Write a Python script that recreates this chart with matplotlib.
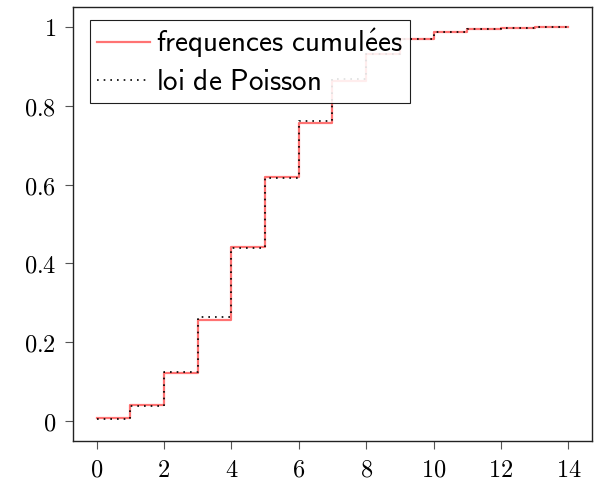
import matplotlib
matplotlib.use("Agg")
import matplotlib.pyplot as plt
from matplotlib.ticker import FuncFormatter

plt.rcParams['mathtext.fontset'] = 'cm'

# cumulative frequencies (sample) and Poisson CDF, k = 0..14
k = [0, 1, 2, 3, 4, 5, 6, 7, 8, 9, 10, 11, 12, 13, 14]
freq_cum = [0.008, 0.042, 0.122, 0.258, 0.441, 0.620, 0.757, 0.862, 0.930,
            0.968, 0.987, 0.995, 0.998, 0.999, 1.0]
poisson_cdf = [0.007, 0.040, 0.125, 0.265, 0.440, 0.616, 0.762, 0.867, 0.932,
               0.968, 0.986, 0.995, 0.998, 0.999, 1.0]
xticks = [0, 2, 4, 6, 8, 10, 12, 14]
yticks = [0, 0.2, 0.4, 0.6, 0.8, 1]

fig = plt.figure(figsize=(5.98, 4.84), dpi=100)
ax = fig.add_axes([0.122, 0.0888, 0.868, 0.8967])

ax.step(k, freq_cum, where='post', color='red', alpha=0.55, lw=1.6,
        label=r'$\mathsf{frequences\ cumul\acute{e}es}$')
ax.step(k, poisson_cdf, where='post', color='black', lw=1.2,
        linestyle=(0, (1, 3)), label=r'$\mathsf{loi\ de\ Poisson}$')

ax.set_xlim(-0.7, 14.7)
ax.set_ylim(-0.05, 1.05)
ax.set_xticks(xticks)
ax.set_yticks(yticks)
fmt = FuncFormatter(lambda v, p: f'${v:g}$')
ax.xaxis.set_major_formatter(fmt)
ax.yaxis.set_major_formatter(fmt)
ax.tick_params(direction='out', length=6, width=0.8, labelsize=17.5, pad=6,
               color='#555555')
for s in ax.spines.values():
    s.set_linewidth(1.0)
    s.set_color('#222222')

leg = ax.legend(loc='upper left', bbox_to_anchor=(0.033, 0.97),
                borderaxespad=0, fontsize=21, frameon=True, fancybox=False,
                framealpha=0.88, edgecolor='black', handlelength=1.8,
                handletextpad=0.2, borderpad=0.25, labelspacing=0.25)
leg.get_frame().set_linewidth(0.8)

fig.savefig('out.png', dpi=100)
